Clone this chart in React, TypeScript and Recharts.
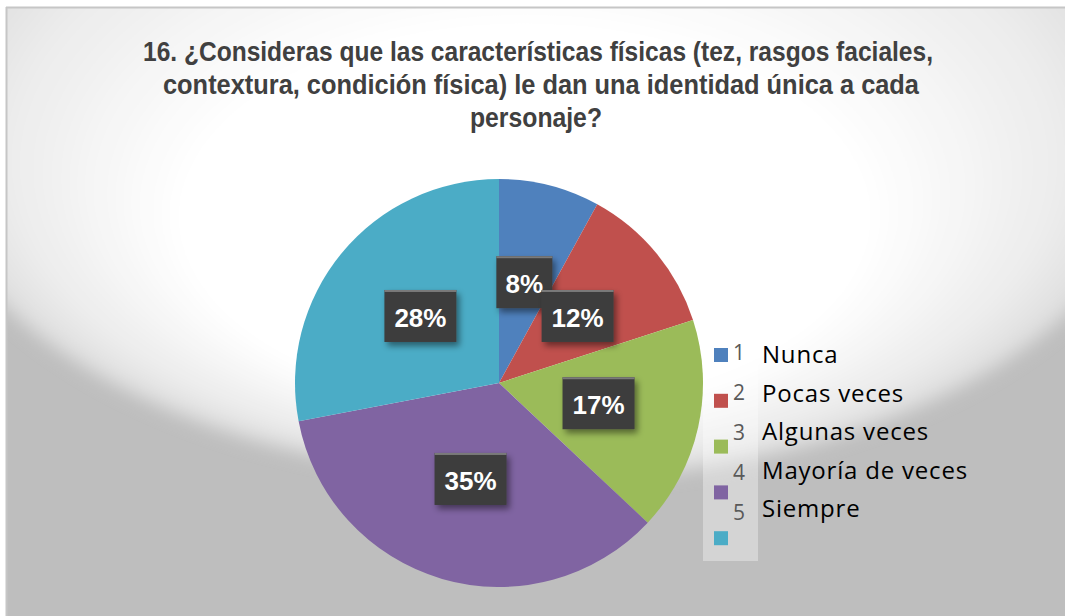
import { PieChart, Pie, Cell, Legend } from "recharts";

// categories, answer labels and shares (%)
const categories = ["1", "2", "3", "4", "5"];
const answers = ["Nunca", "Pocas veces", "Algunas veces", "Mayoría de veces", "Siempre"];
const shares = [8, 12, 17, 35, 28];
const colors = ["#4F81BD", "#C0504D", "#9BBB59", "#8064A2", "#4BACC6"];

const titleLines = [
  "16. ¿Consideras que las características físicas (tez, rasgos faciales,",
  "contextura, condición física) le dan una identidad única a cada",
  "personaje?",
];

const data = categories.map((c, i) => ({ name: c, answer: answers[i], value: shares[i] }));

const RADIAN = Math.PI / 180;

const renderLabel = (props: any) => {
  const { cx, cy, midAngle, outerRadius, percent } = props;
  const r = outerRadius * 0.5;
  const x = cx + r * Math.cos(-midAngle * RADIAN);
  const y = cy + r * Math.sin(-midAngle * RADIAN);
  const text = `${Math.round(percent * 100)}%`;
  const w = text.length * 16 + 24;
  const h = 52;
  return (
    <g>
      <rect x={x - w / 2} y={y - h / 2 - 2} width={w} height={h} fill="#3d3d3d" filter="url(#lblShadow)" />
      <rect x={x - w / 2} y={y - h / 2 - 2} width={w} height={2} fill="#7a7a7a" />
      <text
        x={x}
        y={y + 9}
        textAnchor="middle"
        fill="#ffffff"
        fontFamily="'Liberation Sans', Arial, sans-serif"
        fontWeight="bold"
        fontSize={26}
      >
        {text}
      </text>
    </g>
  );
};

const renderLegend = (props: any) => {
  const { payload } = props;
  return (
    <svg width={300} height={240} style={{ overflow: "visible" }}>
      <rect x={0} y={0} width={55} height={230} fill="#ffffff" fillOpacity={0.35} />
      {payload.map((entry: any, i: number) => (
        <g key={entry.value}>
          <rect x={11} y={17 + i * 45.8} width={14} height={14} fill={entry.color} />
          <text x={36} y={29 + i * 40} textAnchor="middle" fill="#595959" fontFamily="'Open Sans', sans-serif" fontSize={21}>
            {entry.value}
          </text>
          <text
            x={59}
            y={32 + i * 38.6}
            fill="#000000"
            fontFamily="'Open Sans', sans-serif"
            fontSize={24}
            letterSpacing={0.8}
          >
            {entry.payload?.answer ?? answers[i]}
          </text>
        </g>
      ))}
    </svg>
  );
};

export default function App() {
  return (
    <div style={{ position: "absolute", left: 0, top: 0, width: 1065, height: 616, background: "#ffffff" }}>
      <svg width={1065} height={616} style={{ position: "absolute", left: 0, top: 0 }}>
        <defs>
          <radialGradient
            id="bgGlow"
            gradientUnits="userSpaceOnUse"
            cx={540}
            cy={130}
            r={350}
            fx={520}
            fy={330}
            gradientTransform="translate(540 130) scale(1.77 1) translate(-540 -130)"
          >
            <stop offset="0" stopColor="#ffffff" />
            <stop offset="0.55" stopColor="#ffffff" />
            <stop offset="0.85" stopColor="#ececec" />
            <stop offset="1" stopColor="#dcdcdc" />
          </radialGradient>
          <filter id="soft" x="-10%" y="-10%" width="120%" height="120%">
            <feGaussianBlur stdDeviation="9" />
          </filter>
          <filter id="lblShadow" x="-30%" y="-30%" width="160%" height="160%">
            <feDropShadow dx="3" dy="4" stdDeviation="3" floodColor="#000" floodOpacity="0.45" />
          </filter>
          <clipPath id="area">
            <rect x={6} y={7} width={1059} height={609} />
          </clipPath>
        </defs>
        <g clipPath="url(#area)">
          <rect x={6} y={7} width={1059} height={609} fill="#bebebe" />
          <ellipse cx={540} cy={130} rx={620} ry={350} fill="url(#bgGlow)" filter="url(#soft)" />
        </g>
        <line x1={6} y1={7.5} x2={1065} y2={7.5} stroke="#c6c6c6" strokeWidth={2} />
        <line x1={6.5} y1={7} x2={6.5} y2={616} stroke="#c6c6c6" strokeWidth={2} />
        <g
          fontFamily="'Liberation Sans Narrow', 'Liberation Sans', Arial, sans-serif"
          fontWeight="bold"
          fontSize={27}
          fill="#404040"
        >
          <text x={143} y={61} textLength={790} lengthAdjust="spacingAndGlyphs">{titleLines[0]}</text>
          <text x={163} y={94} textLength={756} lengthAdjust="spacingAndGlyphs">{titleLines[1]}</text>
          <text x={470} y={127} textLength={132} lengthAdjust="spacingAndGlyphs">{titleLines[2]}</text>
        </g>
      </svg>
      <div style={{ position: "absolute", left: 0, top: 0 }}>
        <PieChart width={1065} height={616} margin={{ top: 0, right: 0, bottom: 0, left: 0 }}>
          <Pie
            data={data}
            dataKey="value"
            nameKey="name"
            cx={499}
            cy={383}
            outerRadius={204}
            startAngle={90}
            endAngle={-270}
            stroke="none"
            label={renderLabel}
            labelLine={false}
            isAnimationActive={false}
          >
            {data.map((d, i) => (
              <Cell key={d.name} fill={colors[i]} />
            ))}
          </Pie>
          <Legend
            layout="vertical"
            align="right"
            verticalAlign="top"
            content={renderLegend}
            wrapperStyle={{ position: "absolute", left: 703, top: 331, width: 300, height: 240 }}
          />
        </PieChart>
      </div>
    </div>
  );
}
